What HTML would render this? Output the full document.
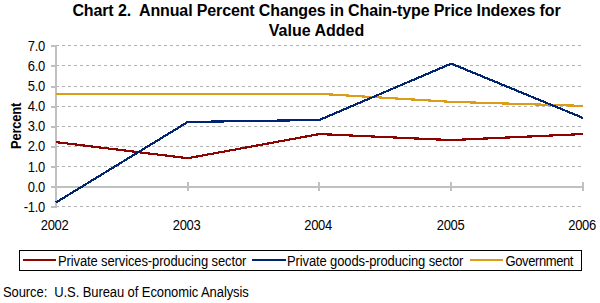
<!DOCTYPE html>
<html><head><meta charset="utf-8"><style>
html,body{margin:0;padding:0;background:#fff;}
body{width:600px;height:303px;overflow:hidden;position:relative;font-family:"Liberation Sans",sans-serif;color:#000;}
svg{position:absolute;left:0;top:0;}
.t{position:absolute;left:0;width:633px;text-align:center;font-weight:bold;font-size:16px;line-height:20px;white-space:nowrap;letter-spacing:-0.13px;}
.r{position:absolute;font-size:13px;line-height:18px;white-space:nowrap;transform:scaleY(1.075);transform-origin:0 13.3px;}
.yl{left:0;width:45px;text-align:right;letter-spacing:-0.3px;}
.xl{top:217px;width:60px;text-align:center;letter-spacing:-0.3px;}
.lg{top:253px;}
.src{left:3px;top:284px;letter-spacing:-0.087px;}
.pct{position:absolute;left:-9.5px;top:117px;width:52px;text-align:center;font-weight:bold;font-size:13px;line-height:18px;white-space:nowrap;transform:rotate(-90deg) scaleY(1.08);letter-spacing:-0.25px;}
</style></head><body>
<svg width="600" height="303" viewBox="0 0 600 303">
<line x1="57" y1="45.5" x2="581" y2="45.5" stroke="#B2B2B2" stroke-width="1" stroke-dasharray="3 3" stroke-dashoffset="1"/>
<line x1="57" y1="65.5" x2="581" y2="65.5" stroke="#B2B2B2" stroke-width="1" stroke-dasharray="3 3" stroke-dashoffset="1"/>
<line x1="57" y1="86.5" x2="581" y2="86.5" stroke="#B2B2B2" stroke-width="1" stroke-dasharray="3 3" stroke-dashoffset="1"/>
<line x1="57" y1="106.5" x2="581" y2="106.5" stroke="#B2B2B2" stroke-width="1" stroke-dasharray="3 3" stroke-dashoffset="1"/>
<line x1="57" y1="126.5" x2="581" y2="126.5" stroke="#B2B2B2" stroke-width="1" stroke-dasharray="3 3" stroke-dashoffset="1"/>
<line x1="57" y1="146.5" x2="581" y2="146.5" stroke="#B2B2B2" stroke-width="1" stroke-dasharray="3 3" stroke-dashoffset="1"/>
<line x1="57" y1="166.5" x2="581" y2="166.5" stroke="#B2B2B2" stroke-width="1" stroke-dasharray="3 3" stroke-dashoffset="1"/>
<line x1="57" y1="206.5" x2="581" y2="206.5" stroke="#B2B2B2" stroke-width="1" stroke-dasharray="3 3" stroke-dashoffset="1"/>
<rect x="55" y="45" width="2" height="163" fill="#C0C0C0"/>
<rect x="51" y="45" width="4" height="2" fill="#C0C0C0"/>
<rect x="51" y="65" width="4" height="2" fill="#C0C0C0"/>
<rect x="51" y="86" width="4" height="2" fill="#C0C0C0"/>
<rect x="51" y="106" width="4" height="2" fill="#C0C0C0"/>
<rect x="51" y="126" width="4" height="2" fill="#C0C0C0"/>
<rect x="51" y="146" width="4" height="2" fill="#C0C0C0"/>
<rect x="51" y="166" width="4" height="2" fill="#C0C0C0"/>
<rect x="51" y="206" width="4" height="2" fill="#C0C0C0"/>
<rect x="51" y="186" width="4" height="2" fill="#C0C0C0"/>
<rect x="55" y="186" width="529" height="2" fill="#C0C0C0"/>
<rect x="187" y="182" width="2" height="9" fill="#C0C0C0"/>
<rect x="318" y="182" width="2" height="9" fill="#C0C0C0"/>
<rect x="450" y="182" width="2" height="9" fill="#C0C0C0"/>
<rect x="582" y="182" width="2" height="9" fill="#C0C0C0"/>
<polyline points="56.00,93.80 187.75,93.80 319.50,93.80 451.25,101.85 583.00,105.88" fill="none" stroke="#DB9C18" stroke-width="2.2" stroke-linejoin="miter" shape-rendering="crispEdges"/>
<polyline points="56.00,142.10 187.75,158.20 319.50,134.05 451.25,140.09 583.00,134.05" fill="none" stroke="#8E0202" stroke-width="2.2" stroke-linejoin="miter" shape-rendering="crispEdges"/>
<polyline points="56.00,202.47 187.75,121.97 319.50,119.96 451.25,63.61 583.00,117.95" fill="none" stroke="#002472" stroke-width="2.2" stroke-linejoin="miter" shape-rendering="crispEdges"/>
<rect x="19.5" y="250.5" width="562" height="20" fill="none" stroke="#000" stroke-width="1"/>
<rect x="23" y="259" width="33" height="2" fill="#8E0202"/>
<rect x="252" y="259" width="34" height="2" fill="#002472"/>
<rect x="470" y="259" width="33" height="2" fill="#DB9C18"/>
</svg>
<div class="t" style="top:1px">Chart 2.&nbsp; Annual Percent Changes in Chain-type Price Indexes for</div>
<div class="t" style="top:21px;letter-spacing:0">Value Added</div>
<div class="r yl" style="top:38px">7.0</div>
<div class="r yl" style="top:58px">6.0</div>
<div class="r yl" style="top:78px">5.0</div>
<div class="r yl" style="top:98px">4.0</div>
<div class="r yl" style="top:118px">3.0</div>
<div class="r yl" style="top:138px">2.0</div>
<div class="r yl" style="top:159px">1.0</div>
<div class="r yl" style="top:179px">0.0</div>
<div class="r yl" style="top:199px">-1.0</div>
<div class="r xl" style="left:24.6px">2002</div>
<div class="r xl" style="left:156.6px">2003</div>
<div class="r xl" style="left:288.1px">2004</div>
<div class="r xl" style="left:420.6px">2005</div>
<div class="r xl" style="left:552.1px">2006</div>
<div class="pct">Percent</div>
<div class="r lg" style="left:58px;letter-spacing:-0.12px">Private services-producing sector</div>
<div class="r lg" style="left:287px;letter-spacing:-0.12px">Private goods-producing sector</div>
<div class="r lg" style="left:505.5px;letter-spacing:-0.4px">Government</div>
<div class="r src">Source:&nbsp; U.S. Bureau of Economic Analysis</div>
</body></html>
